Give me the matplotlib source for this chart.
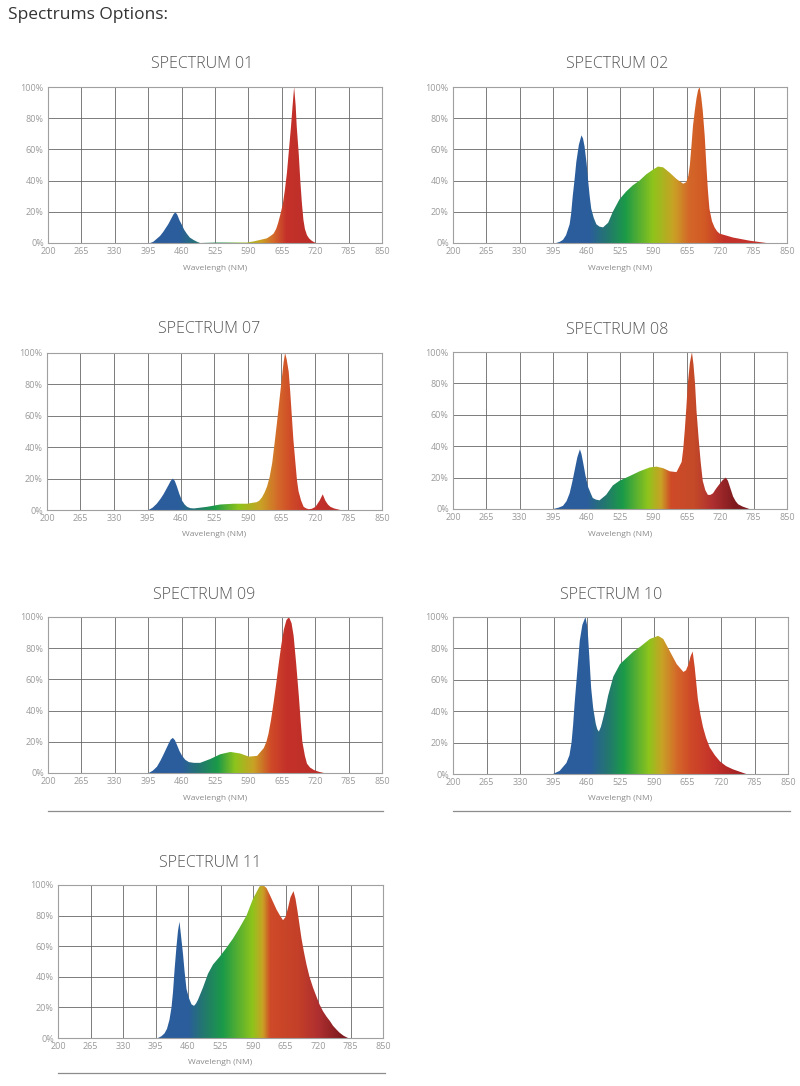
import numpy as np
import matplotlib
matplotlib.use("Agg")
import matplotlib.pyplot as plt
from matplotlib.colors import LinearSegmentedColormap

# ---------------- data ----------------
x_ticks = [200, 265, 330, 395, 460, 525, 590, 655, 720, 785, 850]
y_ticks = [0, 20, 40, 60, 80, 100]
y_tick_labels = ["0%", "20%", "40%", "60%", "80%", "100%"]
page_title = "Spectrums Options:"
x_label = "Wavelengh (NM)"

titles = ["SPECTRUM 01", "SPECTRUM 02", "SPECTRUM 07", "SPECTRUM 08",
          "SPECTRUM 09", "SPECTRUM 10", "SPECTRUM 11"]

wl_01 = [399, 405, 411, 418, 424, 430, 434, 438, 442, 445, 448, 451, 453, 456, 460,
         465, 470, 476, 483, 490, 496, 528, 587, 600, 613, 626, 633, 639, 644, 648,
         652, 657, 661, 665, 669, 673, 676, 679, 682, 684, 688, 691, 694, 697, 700,
         704, 708, 713, 718, 722]
pc_01 = [0, 0.8, 2.5, 4.5, 7, 10, 12, 14.5, 17, 18.8, 19.5, 18.5, 17, 14.5, 12,
         8.5, 6, 3.5, 2, 0.8, 0, 0.3, 0.3, 1, 2, 3, 4.5, 6, 9, 13,
         18, 25, 34, 45, 60, 75, 88, 100, 88, 75, 57, 40, 26, 15, 9,
         5, 3, 1.5, 0.5, 0]

wl_02 = [401, 408, 414, 420, 427, 430, 433, 437, 440, 445, 450, 453, 456, 460, 463,
         466, 469, 474, 479, 485, 492, 502, 511, 524, 537, 550, 563, 576, 589, 599,
         609, 622, 635, 648, 654, 658, 661, 664, 667, 671, 674, 677, 680, 683, 686,
         690, 693, 696, 699, 704, 709, 714, 719, 745, 777, 810]
pc_02 = [0, 0.8, 2, 5, 12, 19, 30, 42, 52, 63, 69, 67, 62, 51, 40,
         30, 22, 16, 12, 10.5, 10, 13, 20, 28, 33, 37, 40, 44, 47, 49,
         48.5, 45, 41, 38, 39, 43, 50, 62, 75, 86, 93, 98, 100, 94, 85,
         68, 50, 34, 22, 14, 10, 7.5, 6, 3.5, 1.5, 0]

wl_07 = [397, 405, 413, 420, 426, 431, 436, 440, 444, 448, 452, 457, 462, 467, 472,
         478, 485, 510, 536, 562, 588, 607, 612, 617, 622, 627, 632, 637, 641, 646,
         651, 656, 659, 662, 665, 669, 672, 675, 678, 682, 685, 688, 693, 698, 703,
         708, 714, 721, 725, 729, 735, 740, 745, 750, 757, 763, 769]
pc_07 = [0, 1.5, 4, 7, 10, 13, 16, 18.5, 20, 18.5, 15, 10, 6, 3.5, 2,
         1.2, 1, 2, 3.5, 4, 4, 5, 6, 8, 11, 15, 21, 30, 41, 55,
         70, 85, 94, 100, 96, 88, 75, 60, 45, 30, 19, 12, 6, 2, 1,
         0.5, 0.8, 2, 4, 6, 10, 6, 3.5, 2, 1, 0.5, 0]

wl_08 = [395, 405, 414, 421, 427, 432, 437, 442, 447, 450, 453, 458, 463, 468, 472,
         478, 485, 498, 511, 524, 544, 563, 583, 596, 609, 622, 635, 645, 648, 651,
         654, 657, 661, 665, 668, 671, 674, 678, 682, 686, 691, 696, 701, 706, 712,
         719, 725, 731, 735, 738, 742, 745, 750, 755, 764, 777]
pc_08 = [0, 0.8, 2, 5, 10, 17, 25, 33, 38, 35, 30, 21, 14, 10, 7,
         6, 5.5, 9, 15, 18, 21, 24, 26.5, 27, 26, 24, 23.5, 30, 38, 50,
         64, 80, 93, 100, 92, 80, 62, 45, 30, 18, 12, 9, 9, 10, 13,
         16, 18.5, 20, 18, 15, 11, 8, 5, 3, 1.5, 0]

wl_09 = [396, 404, 412, 419, 425, 430, 435, 439, 443, 447, 451, 456, 461, 467, 474,
         484, 496, 516, 535, 555, 574, 591, 607, 620, 625, 629, 634, 639, 644, 649,
         654, 659, 664, 669, 674, 678, 683, 688, 692, 695, 700, 704, 710, 717, 727,
         737]
pc_09 = [0, 1.5, 4, 8, 12, 15.5, 19, 21.5, 22.5, 21, 18, 14, 11, 8.5, 7,
         6.5, 6.5, 9, 12, 13.5, 12.5, 10.5, 11, 16, 20, 25, 34, 45, 57, 70,
         82, 92, 98, 100, 96, 88, 70, 50, 32, 20, 11, 6, 3.5, 2, 0.8,
         0]

wl_10 = [394, 407, 420, 426, 430, 433, 436, 441, 446, 451, 457, 460, 462, 465, 468,
         472, 477, 480, 483, 487, 491, 496, 501, 511, 524, 537, 550, 563, 582, 598,
         608, 621, 634, 647, 652, 657, 661, 665, 669, 672, 675, 680, 685, 691, 698,
         708, 718, 730, 743, 756, 769]
pc_10 = [0, 2, 7, 12, 20, 31, 45, 65, 85, 95, 100, 95, 88, 72, 55,
         42, 32, 28.5, 27, 30, 35, 42, 50, 62, 70, 74, 78, 81, 86, 88,
         86, 78, 70, 65, 66, 70, 75, 78, 68, 58, 48, 38, 30, 23, 17,
         12, 8, 5, 3, 1.5, 0]

wl_11 = [400, 407, 413, 418, 423, 427, 430, 433, 437, 440, 443, 446, 450, 453, 457,
         462, 467, 472, 476, 480, 485, 490, 500, 510, 523, 537, 550, 563, 577, 590,
         603, 610, 617, 623, 630, 637, 644, 650, 655, 660, 665, 671, 675, 679, 683,
         687, 692, 697, 703, 710, 717, 723, 730, 737, 744, 750, 757, 763, 771, 780]
pc_11 = [0, 1.2, 3, 6, 12, 20, 30, 44, 60, 70, 76, 67, 55, 44, 32,
         26, 22, 21, 22.5, 25, 29, 33, 42, 48, 53, 59, 65, 72, 80, 91,
         99, 100, 98, 94, 89, 84, 80, 77, 79, 85, 92, 96, 91, 83, 74,
         65, 56, 48, 40, 33, 27, 22, 17.5, 14, 11, 8, 5.5, 3.5, 1.5, 0]

wavelengths = [wl_01, wl_02, wl_07, wl_08, wl_09, wl_10, wl_11]
intensities = [pc_01, pc_02, pc_07, pc_08, pc_09, pc_10, pc_11]

# ---------------- styles ----------------
BLUE = "#2b5d9c"
TEAL = "#23776f"
GREEN = "#1b9a48"
YGREEN = "#8fc41c"
YORANGE = "#c9a225"
ORANGE = "#d4672a"
RORANGE = "#cf4a28"
RED = "#c4312a"
DRED = "#7e1a1e"

gradients = [
    [(200, BLUE), (455, BLUE), (495, TEAL), (540, GREEN), (575, YGREEN), (615, YORANGE), (640, ORANGE), (665, RED), (850, "#a82424")],
    [(200, BLUE), (465, BLUE), (500, TEAL), (535, GREEN), (590, YGREEN), (630, YORANGE), (660, ORANGE), (690, "#d25a24"), (730, RED), (850, RED)],
    [(200, BLUE), (455, BLUE), (490, TEAL), (525, GREEN), (572, YGREEN), (615, YORANGE), (650, ORANGE), (675, RORANGE), (710, RED), (850, "#b02828")],
    [(200, BLUE), (460, BLUE), (495, TEAL), (530, GREEN), (580, YGREEN), (605, YORANGE), (625, RORANGE), (670, "#c44a28"), (705, "#b03030"), (750, DRED), (850, DRED)],
    [(200, BLUE), (460, BLUE), (495, TEAL), (530, GREEN), (565, YGREEN), (600, YORANGE), (635, RORANGE), (665, RED), (850, "#b02828")],
    [(200, BLUE), (465, BLUE), (500, TEAL), (530, GREEN), (580, YGREEN), (605, YORANGE), (635, ORANGE), (660, RORANGE), (705, RED), (770, "#9a1e22"), (850, DRED)],
    [(200, BLUE), (460, BLUE), (490, TEAL), (530, GREEN), (590, YGREEN), (610, YORANGE), (625, RORANGE), (680, "#c44028"), (720, "#b03030"), (770, DRED), (850, DRED)],
]

W, H = 800, 1086
# axes boxes in pixels: left, top, right, bottom
boxes = [
    (48, 87, 382, 243),
    (453, 87, 787, 243),
    (47, 353, 382, 510),
    (453, 352, 787, 509),
    (48, 617, 382, 773),
    (453, 617, 788, 774),
    (58, 885, 383, 1038),
]
title_pos = [(202, 64), (617, 64), (209, 329), (617, 330), (204, 595), (611, 595), (210, 863)]
separators = [(48, 383, 811), (453, 790, 811), (58, 385, 1073)]

plt.rcParams['font.family'] = ['Open Sans', 'DejaVu Sans']

fig = plt.figure(figsize=(W / 100, H / 100), dpi=100)
fig.patch.set_facecolor("white")

fig.text(8 / W, 1 - 15 / H, page_title, fontsize=12.5, color="#333333",
         ha="left", va="center")

for i in range(len(titles)):
    l, t, r, b = boxes[i]
    ax = fig.add_axes([l / W, 1 - b / H, (r - l) / W, (b - t) / H])
    x = np.array(wavelengths[i], dtype=float)
    y = np.array(intensities[i], dtype=float)

    stops = gradients[i]
    cmap = LinearSegmentedColormap.from_list(
        "g%d" % i, [((w - 200) / 650.0, c) for w, c in stops])
    poly = ax.fill_between(x, y, 0, color="none", lw=0)
    path = poly.get_paths()[0]
    img = ax.imshow(np.linspace(0, 1, 650).reshape(1, -1), cmap=cmap,
                    aspect="auto", extent=[200, 850, 0, 100], origin="lower",
                    zorder=2, interpolation="bilinear")
    img.set_clip_path(path, transform=ax.transData)

    ax.set_xlim(200, 850)
    ax.set_ylim(0, 100)
    ax.set_xticks(x_ticks)
    ax.set_xticklabels([str(v) for v in x_ticks])
    ax.set_yticks(y_ticks)
    ax.set_yticklabels(y_tick_labels)
    ax.tick_params(length=0, labelsize=6.5, labelcolor="#9a9a9a", pad=3)
    ax.grid(True, color="#666666", lw=0.6)
    ax.set_axisbelow(True)
    for s in ax.spines.values():
        s.set_color("#a0a0a0")
        s.set_linewidth(0.8)
    ax.set_xlabel(x_label, fontsize=6, color="#8a8a8a", labelpad=6)

    tx, ty = title_pos[i]
    fig.text(tx / W, 1 - ty / H, titles[i], fontsize=11.5, color="#555555",
             ha="center", va="center", fontweight="light")

for x0, x1, yy in separators:
    fig.add_artist(plt.Line2D([x0 / W, x1 / W], [1 - yy / H, 1 - yy / H],
                              color="#8c8c8c", lw=0.9))

fig.savefig("out.png", dpi=100, facecolor="white")
